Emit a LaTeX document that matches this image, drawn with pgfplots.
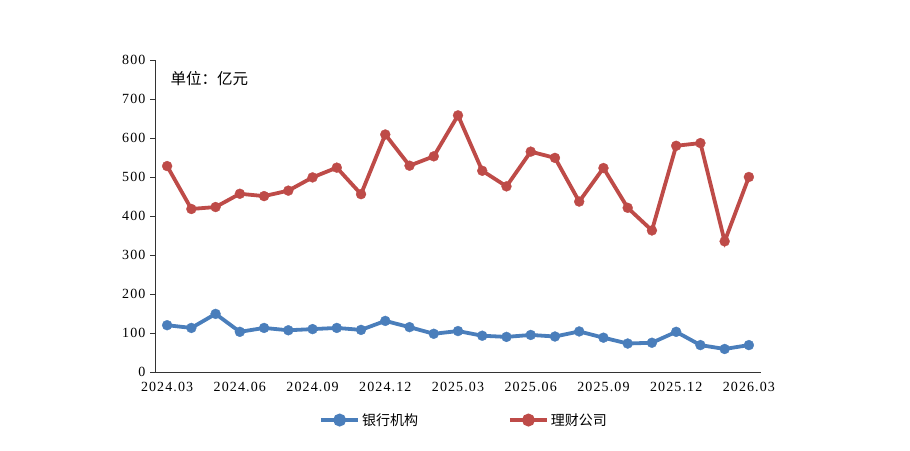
\documentclass[border=0pt]{standalone}
\usepackage{pgfplots}
\pgfplotsset{compat=1.18}
\usepackage{fontspec}
\setmainfont{Liberation Serif}
\newfontfamily\numfont[LetterSpace=8]{Liberation Serif}
\newfontfamily\cjk{Noto Sans CJK SC}
\definecolor{cblue}{RGB}{74,126,187}
\definecolor{cred}{RGB}{190,75,72}
\begin{document}
\begin{tikzpicture}
\useasboundingbox (0pt,0pt) rectangle (910pt,450pt);
\begin{axis}[
  at={(155pt,78pt)}, anchor=south west,
  scale only axis, width=606pt, height=312pt,
  xmin=-0.5, xmax=24.5, ymin=0, ymax=800,
  axis x line*=bottom, axis y line*=left,
  axis line style={black!80, line width=1pt},
  xtick={0,3,6,9,12,15,18,21,24},
  xticklabels={2024.03,2024.06,2024.09,2024.12,2025.03,2025.06,2025.09,2025.12,2026.03},
  x tick style={draw=none},
  ytick={0,100,...,800},
  y tick style={black!80, line width=0.8pt},
  tick align=outside, major tick length=5pt,
  tick label style={font=\numfont\fontsize{14}{15}\selectfont},
  /pgf/number format/assume math mode=true,
  yticklabel style={xshift=-1pt},
  xticklabel style={yshift=-2pt},
  legend columns=2,
  legend style={at={(0.51,-0.154)}, anchor=center, draw=none, fill=none,
    font=\cjk\fontsize{14}{15}\selectfont, /tikz/every even column/.append style={column sep=88pt}},
  legend image code/.code={
    \draw[#1, mark=none] (0pt,0pt) -- (37pt,0pt);
    \fill[#1] (18.5pt,0pt) circle (4.5pt);
  },
  clip=false,
]
\addplot[cblue, line width=3.8pt, mark=*, mark size=5pt, mark options={solid, line width=0.3pt}] coordinates {
(0,120)(1,113)(2,149)(3,103)(4,113)(5,107)(6,110)(7,113)(8,108)(9,131)
(10,115)(11,98)(12,105)(13,93)(14,90)(15,95)(16,91)(17,104)(18,88)(19,73)
(20,75)(21,103)(22,69)(23,59)(24,69)};
\addlegendentry{银行机构}
\addplot[cred, line width=3.8pt, mark=*, mark size=5pt, mark options={solid, line width=0.3pt}] coordinates {
(0,528)(1,418)(2,423)(3,457)(4,451)(5,465)(6,499)(7,524)(8,456)(9,609)
(10,529)(11,553)(12,658)(13,516)(14,476)(15,565)(16,549)(17,437)(18,523)(19,421)
(20,363)(21,580)(22,587)(23,335)(24,500)};
\addlegendentry{理财公司}
\node[anchor=west, font=\cjk\fontsize{15.5}{16}\selectfont] at (rel axis cs:0.02,0.94) {单位：亿元};
\end{axis}
\end{tikzpicture}
\end{document}
